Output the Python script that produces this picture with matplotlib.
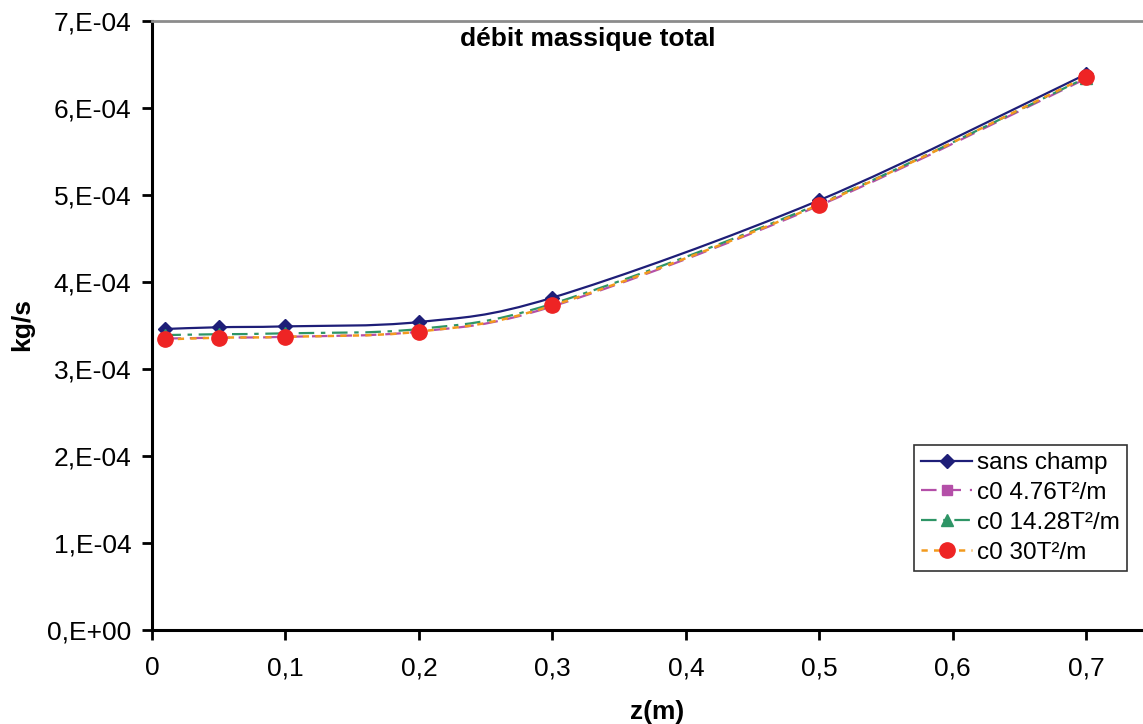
"""
Débit massique total vs z, Excel-style chart with smoothed lines.
"""
import matplotlib
matplotlib.use("Agg")
import matplotlib.pyplot as plt
import numpy as np
from matplotlib.path import Path
from matplotlib.patches import PathPatch
from matplotlib.lines import Line2D

plt.rcParams['font.family'] = ['Liberation Sans', 'DejaVu Sans']

# data
z = [0.01, 0.05, 0.1, 0.2, 0.3, 0.5, 0.7]
sans_champ = [3.46e-4, 3.48e-4, 3.49e-4, 3.54e-4, 3.82e-4, 4.94e-4, 6.39e-4]
c0_476 = [3.35e-4, 3.36e-4, 3.37e-4, 3.43e-4, 3.72e-4, 4.88e-4, 6.34e-4]
c0_1428 = [3.39e-4, 3.40e-4, 3.41e-4, 3.46e-4, 3.75e-4, 4.90e-4, 6.35e-4]
c0_30 = [3.34e-4, 3.36e-4, 3.37e-4, 3.43e-4, 3.73e-4, 4.89e-4, 6.36e-4]

labels = ["sans champ", "c0 4.76T²/m", "c0 14.28T²/m", "c0 30T²/m"]
yticks = [0, 1e-4, 2e-4, 3e-4, 4e-4, 5e-4, 6e-4, 7e-4]
ytick_labels = ["0,E+00", "1,E-04", "2,E-04", "3,E-04", "4,E-04", "5,E-04", "6,E-04", "7,E-04"]
xticks = [0, 0.1, 0.2, 0.3, 0.4, 0.5, 0.6, 0.7]
xtick_labels = ["0", "0,1", "0,2", "0,3", "0,4", "0,5", "0,6", "0,7"]


def smooth_path(xs, ys, t=1/6):
    # Excel-like smoothing: cubic bezier segments through each point
    p = np.column_stack([xs, ys])
    n = len(p)
    verts = [p[0]]
    codes = [Path.MOVETO]
    for i in range(n - 1):
        p_prev = p[i - 1] if i > 0 else p[i]
        p_next2 = p[i + 2] if i + 2 < n else p[i + 1]
        c1 = p[i] + (p[i + 1] - p_prev) * t
        c2 = p[i + 1] - (p_next2 - p[i]) * t
        verts += [c1, c2, p[i + 1]]
        codes += [Path.CURVE4] * 3
    return Path(verts, codes)


styles = [
    dict(color='#1E1E78', ls='-', lw=1.6, marker='D', ms=7.5, mfc='#1E1E78'),
    dict(color='#B44FA8', ls=(0, (7, 4)), lw=1.6, marker='s', ms=7.5, mfc='#B44FA8'),
    dict(color='#2E9566', ls=(0, (7, 3, 2, 3)), lw=1.6, marker='^', ms=8, mfc='#2E9566'),
    dict(color='#F29A1E', ls=(0, (2.5, 2.5)), lw=1.8, marker='o', ms=11, mfc='#EE2424'),
]
series = [sans_champ, c0_476, c0_1428, c0_30]

fig = plt.figure(figsize=(11.43, 7.24), dpi=100)
ax = fig.add_axes([152 / 1143, 1 - 630 / 724, 1 - 152 / 1143, (630 - 21) / 724])

handles = []
for ys, st, lab in zip(series, styles, labels):
    patch = PathPatch(smooth_path(z, ys), fill=False, edgecolor=st['color'],
                      linestyle=st['ls'], linewidth=st['lw'], transform=ax.transData)
    ax.add_patch(patch)
    ax.plot(z, ys, ls='none', marker=st['marker'], ms=st['ms'],
            mfc=st['mfc'], mec=st['mfc'], zorder=3)
    handles.append(Line2D([], [], color=st['color'], ls=st['ls'], lw=st['lw'],
                          marker=st['marker'], ms=st['ms'],
                          mfc=st['mfc'], mec=st['mfc']))

ax.set_xlim(0, 0.7425)
ax.set_ylim(0, 7e-4)
ax.set_xticks(xticks)
ax.set_xticklabels(xtick_labels)
ax.set_yticks(yticks)
ax.set_yticklabels(ytick_labels)
ax.tick_params(axis='both', labelsize=19, length=7, width=2, direction='out')
ax.tick_params(axis='x', pad=12)
ax.tick_params(axis='y', pad=8)

ax.spines['right'].set_visible(False)
ax.spines['top'].set_color('#8C8C8C')
ax.spines['top'].set_linewidth(2)
ax.spines['left'].set_linewidth(2.2)
ax.spines['bottom'].set_linewidth(2.2)

ax.text((588 - 152) / 991, (630 - 39) / 609, "débit massique total",
        transform=ax.transAxes, ha='center', va='center', fontsize=19, fontweight='bold')

fig.text(22 / 1143, 1 - 325 / 724, "kg/s", rotation=90, ha='center', va='center',
         fontsize=19, fontweight='bold')
fig.text(657 / 1143, 1 - 712 / 724, "z(m)", ha='center', va='center',
         fontsize=19, fontweight='bold')

leg = ax.legend(handles, labels, loc='upper right', bbox_to_anchor=(0.984, 0.304),
                fontsize=17.5, frameon=True, fancybox=False, handlelength=2.1,
                labelspacing=0.32, borderpad=0.3, handletextpad=0.2, borderaxespad=0)
leg.get_frame().set_edgecolor('black')
leg.get_frame().set_linewidth(1.2)

fig.savefig("out.png", dpi=100)
